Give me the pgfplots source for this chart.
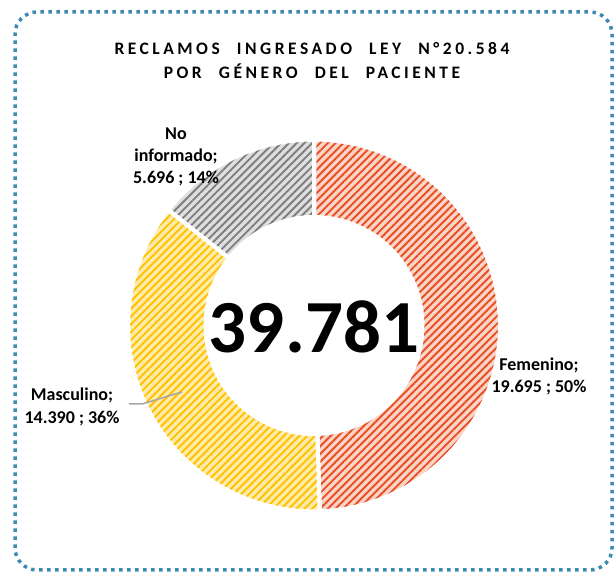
\documentclass[border=0pt]{standalone}
\usepackage{pgfplots}
\pgfplotsset{compat=1.18}
\usepackage{fontspec}
\setmainfont{Carlito}
\newfontfamily\titlefont[LetterSpace=20,WordSpace=2.3]{Carlito}
\usetikzlibrary{patterns.meta}
\definecolor{frameblue}{RGB}{60,138,178}
\definecolor{femline}{RGB}{232,78,36}
\definecolor{fembg}{RGB}{250,212,198}
\definecolor{masline}{RGB}{255,192,0}
\definecolor{masbg}{RGB}{255,236,170}
\definecolor{noline}{RGB}{125,125,125}
\definecolor{nobg}{RGB}{222,222,222}
\begin{document}
\begin{tikzpicture}
% data (thousands): Femenino, Masculino, No informado
\pgfmathsetmacro{\vFem}{19.695}
\pgfmathsetmacro{\vMas}{14.390}
\pgfmathsetmacro{\vNo}{5.696}
\pgfmathsetmacro{\vTot}{\vFem+\vMas+\vNo}
\pgfmathsetmacro{\aA}{90}
\pgfmathsetmacro{\aB}{90-360*\vFem/\vTot}
\pgfmathsetmacro{\aC}{\aB-360*\vMas/\vTot}
\pgfmathsetmacro{\aD}{-270}
\def\cx{314}
\def\cy{246.5}
\def\R{186}
\def\r{110}
\begin{axis}[width=614pt, height=572pt, scale only axis,
  xmin=0, xmax=614, ymin=0, ymax=572, axis lines=none, clip=false]
\path (axis cs:0,0) rectangle (axis cs:614,572);
% frame
\draw[rounded corners=22pt, color=frameblue, line width=3.5pt, dash pattern=on 3.5pt off 4.5pt]
  (axis cs:15,2) rectangle (axis cs:612,560);
% wedges
\addplot[draw=white, line width=4pt, preaction={fill=fembg},
  pattern={Lines[angle=45,distance=5.5pt,line width=1.9pt]}, pattern color=femline,
  domain=\aB:\aA, samples=90]
  ({\cx+\R*cos(x)},{\cy+\R*sin(x)}) -- (axis cs:\cx,\cy) -- cycle;
\addplot[draw=white, line width=4pt, preaction={fill=masbg},
  pattern={Lines[angle=45,distance=5.5pt,line width=1.9pt]}, pattern color=masline,
  domain=\aC:\aB, samples=70]
  ({\cx+\R*cos(x)},{\cy+\R*sin(x)}) -- (axis cs:\cx,\cy) -- cycle;
\addplot[draw=white, line width=4pt, preaction={fill=nobg},
  pattern={Lines[angle=45,distance=5.5pt,line width=1.9pt]}, pattern color=noline,
  domain=\aD:\aC, samples=40]
  ({\cx+\R*cos(x)},{\cy+\R*sin(x)}) -- (axis cs:\cx,\cy) -- cycle;
% hole
\addplot[fill=white, draw=white, line width=1pt, domain=0:360, samples=120]
  ({\cx+\r*cos(x)},{\cy+\r*sin(x)}) -- cycle;
% centre total
\node[font=\fontsize{75}{80}\selectfont\bfseries] at (axis cs:314,245) {39.781};
% title
\node[align=center, font=\titlefont\fontsize{17.5}{24}\selectfont\bfseries] at (axis cs:312,511.5)
  {RECLAMOS INGRESADO LEY N°20.584\\POR GÉNERO DEL PACIENTE};
% labels
\node[align=center, font=\fontsize{18}{22}\selectfont\bfseries] at (axis cs:539,195.5)
  {Femenino;\\19.695 ; 50\%};
\node[align=center, font=\fontsize{18}{23}\selectfont\bfseries] at (axis cs:72,165.5)
  {Masculino;\\14.390 ; 36\%};
\node[align=center, font=\fontsize{18}{22}\selectfont\bfseries] at (axis cs:176,415)
  {No\\informado;\\5.696 ; 14\%};
\draw[color=gray!70, line width=1.5pt] (axis cs:129,168) -- (axis cs:142,168) -- (axis cs:182,180);
\end{axis}
\end{tikzpicture}
\end{document}
